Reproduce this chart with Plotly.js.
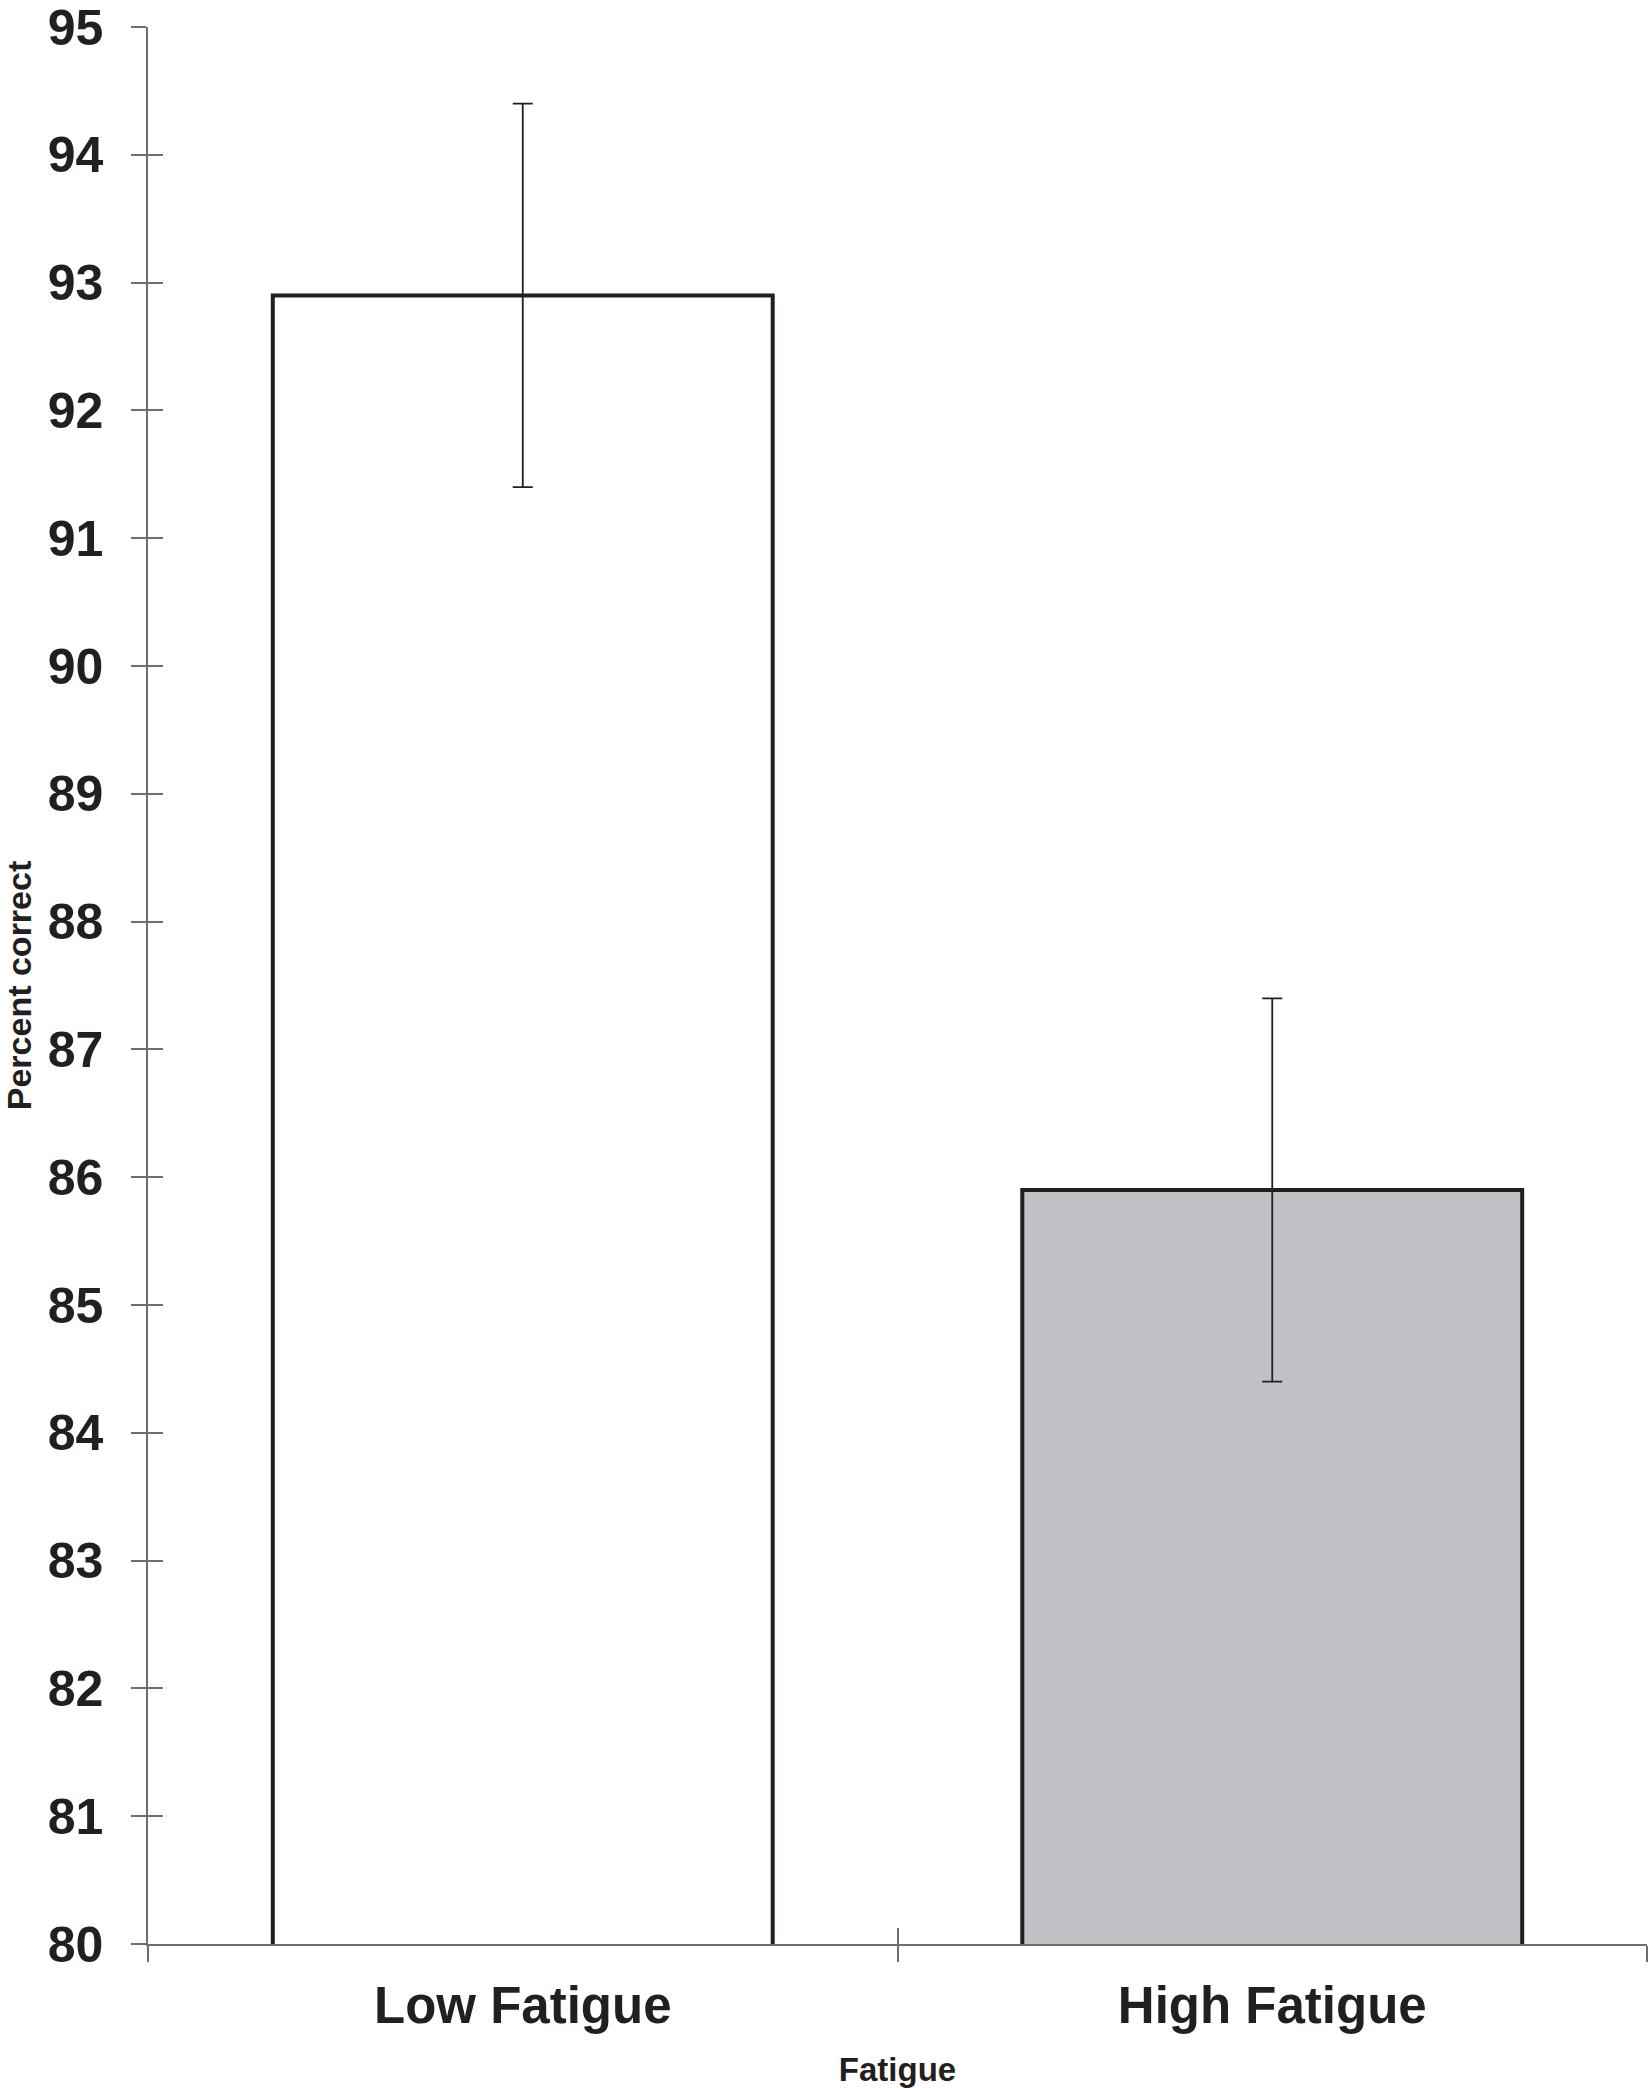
<!DOCTYPE html>
<html>
<head>
<meta charset="utf-8">
<script src="https://cdn.plot.ly/plotly-3.0.1.min.js"></script>
<style>
  body { margin: 0; background: #fff; }
  #chart { width: 1650px; height: 2088px; }
</style>
</head>
<body>
<div id="chart"></div>
<script>
// Percent correct by fatigue group, with error bars
var groups = ["Low Fatigue", "High Fatigue"];
var percentCorrect = [92.9, 85.9];
var errors = [1.5, 1.5];
var yTicks = [80, 81, 82, 83, 84, 85, 86, 87, 88, 89, 90, 91, 92, 93, 94, 95];

var ink = "#231f20";
var axisGray = "#6d6e71";
var font = {family: "Arial, 'Liberation Sans', sans-serif", color: ink, weight: "bold"};

var bars = {
  type: "bar",
  x: groups,
  y: percentCorrect,
  width: 0.667,
  marker: {color: ["#ffffff", "#c1c2c5"], line: {color: ink, width: 4}},
  error_y: {type: "data", array: errors, visible: true, color: ink, thickness: 1.8, width: 10},
  hoverinfo: "x+y",
  showlegend: false
};

// empty trace so the overlay axes (inside half of the crossing ticks) get drawn
var tickOverlay = {
  type: "scatter",
  x: groups,
  y: [null, null],
  xaxis: "x2",
  yaxis: "y2",
  hoverinfo: "skip",
  showlegend: false
};

var layout = {
  width: 1650,
  height: 2088,
  margin: {l: 148, r: 3, t: 27, b: 144},
  paper_bgcolor: "#ffffff",
  plot_bgcolor: "#ffffff",
  font: font,
  xaxis: {
    type: "category",
    range: [-0.5, 1.5],
    showline: true, linecolor: axisGray, linewidth: 1.5,
    ticks: "outside", ticklen: 16, tickwidth: 1.5, tickcolor: axisGray,
    tickson: "boundaries",
    ticklabelstandoff: 16,
    showgrid: false, zeroline: false,
    tickfont: {family: font.family, size: 51, color: ink, weight: "bold"},
    title: {text: "Fatigue", font: {family: font.family, size: 33, color: ink, weight: "bold"}, standoff: 40}
  },
  yaxis: {
    range: [80, 95],
    tickvals: yTicks,
    showline: true, linecolor: axisGray, linewidth: 1.5,
    ticks: "outside", ticklen: 15, tickwidth: 1.5, tickcolor: axisGray,
    ticklabelstandoff: 18,
    ticklabeloverflow: "allow",
    showgrid: false, zeroline: false,
    tickfont: {family: font.family, size: 50, color: ink, weight: "bold"},
    title: {text: "Percent correct", font: {family: font.family, size: 34, color: ink, weight: "bold"}, standoff: 26}
  },
  xaxis2: {
    type: "category", overlaying: "x", range: [-0.5, 1.5],
    ticks: "inside", ticklen: 16, tickwidth: 1.5, tickcolor: axisGray,
    tickson: "boundaries", showticklabels: false,
    showline: false, showgrid: false, zeroline: false
  },
  yaxis2: {
    overlaying: "y", range: [80, 95], tickvals: yTicks,
    ticks: "inside", ticklen: 15, tickwidth: 1.5, tickcolor: axisGray,
    showticklabels: false,
    showline: false, showgrid: false, zeroline: false
  }
};

Plotly.newPlot("chart", [bars, tickOverlay], layout, {displayModeBar: false});
</script>
</body>
</html>
